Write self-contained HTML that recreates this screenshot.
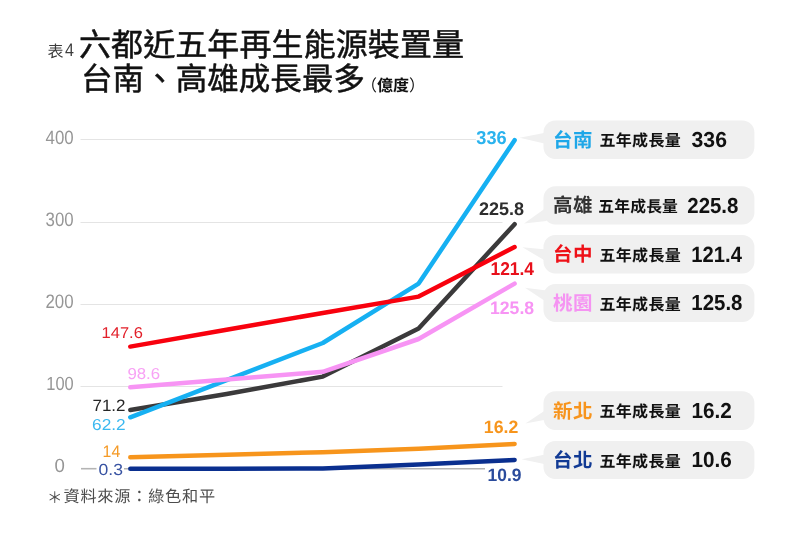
<!DOCTYPE html>
<html lang="zh-Hant">
<head>
<meta charset="utf-8">
<title>六都近五年再生能源裝置量</title>
<style>
html,body{margin:0;padding:0;background:#fff;}
body{width:792px;height:535px;overflow:hidden;font-family:"Liberation Sans",sans-serif;}
svg{display:block;font-family:"Liberation Sans","Noto Sans CJK TC",sans-serif;}
svg text{white-space:pre;text-rendering:geometricPrecision;}
</style>
</head>
<body>
<svg width="792" height="535" viewBox="0 0 792 535">
<rect width="792" height="535" fill="#ffffff"/>
<g opacity="0.999">
<line x1="80.5" y1="139.5" x2="476" y2="139.5" stroke="#e4e4e4" stroke-width="1"/>
<line x1="80.5" y1="222.5" x2="502.5" y2="222.5" stroke="#e4e4e4" stroke-width="1"/>
<line x1="80.5" y1="304.5" x2="480" y2="304.5" stroke="#e4e4e4" stroke-width="1"/>
<line x1="80.5" y1="386.5" x2="502.5" y2="386.5" stroke="#e4e4e4" stroke-width="1"/>
<line x1="81" y1="468.7" x2="96.5" y2="468.7" stroke="#b4b4b4" stroke-width="1.6"/>
<line x1="124" y1="468.7" x2="485" y2="468.7" stroke="#b4b4b4" stroke-width="1.6"/>
<rect x="543.5" y="120.5" width="210.9" height="38.5" rx="12" ry="12" fill="#f0f0f0"/>
<path d="M519.6 137.7L546.5 132.5L546.5 144.0Z" fill="#f0f0f0"/>
<rect x="543.5" y="186.3" width="210.9" height="38.3" rx="12" ry="12" fill="#f0f0f0"/>
<path d="M524.0 223.5L546.5 207.5L546.5 221.0Z" fill="#f0f0f0"/>
<rect x="543.5" y="235.0" width="210.9" height="38.4" rx="12" ry="12" fill="#f0f0f0"/>
<path d="M522.4 247.2L546.5 249.5L546.5 261.5Z" fill="#f0f0f0"/>
<rect x="543.5" y="284.0" width="210.9" height="38" rx="12" ry="12" fill="#f0f0f0"/>
<path d="M525.0 287.8L546.5 290.5L546.5 302.0Z" fill="#f0f0f0"/>
<rect x="543.5" y="391.3" width="210.9" height="38.7" rx="12" ry="12" fill="#f0f0f0"/>
<path d="M525.4 423.5L546.5 409.5L546.5 419.5Z" fill="#f0f0f0"/>
<rect x="543.5" y="441.0" width="210.9" height="38" rx="12" ry="12" fill="#f0f0f0"/>
<path d="M521.5 459.2L546.5 454.3L546.5 464.6Z" fill="#f0f0f0"/>
<path d="M130.3 410L226.6 394L322.8 376.6L418.6 328.4L514.6 224.2" fill="none" stroke="#3b3a3b" stroke-width="4.5" stroke-linecap="round" stroke-linejoin="round"/>
<path d="M130.3 417.3L226.6 380.2L322.8 343L418.6 283.6L514.6 140.2" fill="none" stroke="#16b0f2" stroke-width="4.5" stroke-linecap="round" stroke-linejoin="round"/>
<path d="M130.3 387.3L226.6 379.6L322.8 371.8L418.6 339L514.6 283.6" fill="none" stroke="#f794f4" stroke-width="4.5" stroke-linecap="round" stroke-linejoin="round"/>
<path d="M130.3 346.6L226.6 329.8L322.8 313L418.6 296.6L514.6 247" fill="none" stroke="#f8000e" stroke-width="4.5" stroke-linecap="round" stroke-linejoin="round"/>
<path d="M130.3 457.3L226.6 454.8L322.8 452.2L418.6 448.8L514.6 443.9" fill="none" stroke="#f7951c" stroke-width="4.5" stroke-linecap="round" stroke-linejoin="round"/>
<path d="M130.3 468.8L226.6 468.7L322.8 468.5L418.6 464.6L514.6 459.9" fill="none" stroke="#0a2f8f" stroke-width="4.5" stroke-linecap="round" stroke-linejoin="round"/>
<text x="79" y="56" font-size="32" textLength="385" lengthAdjust="spacing" fill="#111" stroke="#111" stroke-width="0.5" stroke-linejoin="round">六都近五年再生能源裝置量</text>
<text x="81" y="90" font-size="31.5" textLength="284" lengthAdjust="spacing" fill="#111" stroke="#111" stroke-width="0.5" stroke-linejoin="round">台南、高雄成長最多</text>
<text x="361" y="90.8" font-size="16" fill="#111">（<tspan font-weight="bold">億度</tspan>）</text>
<text x="47.5" y="56.6" font-size="16" fill="#3c3c3c">表</text>
<text transform="translate(64.93 56.4) scale(0.885 1)" font-size="18.17" fill="#3c3c3c">4</text>
<text x="46.9" y="502.6" font-size="15.5" fill="#4d4d4d">＊</text>
<text x="63.5" y="502" font-size="16.2" letter-spacing="0.75" fill="#4d4d4d">資料來源：綠色和平</text>
<text transform="translate(45.51 144.11) scale(0.872 1)" font-size="19.35" fill="#969696">400</text>
<text transform="translate(45.56 226.21) scale(0.864 1)" font-size="19.49" fill="#969696">300</text>
<text transform="translate(45.45 308.21) scale(0.867 1)" font-size="19.49" fill="#969696">200</text>
<text transform="translate(46.25 390.21) scale(0.861 1)" font-size="19.07" fill="#969696">100</text>
<text transform="translate(54.57 472.41) scale(0.976 1)" font-size="19.07" fill="#969696">0</text>
<text transform="translate(101.54 338.45) scale(1.052 1)" font-size="15.68" fill="#e2202a">147.6</text>
<text transform="translate(127.41 378.95) scale(1.063 1)" font-size="15.82" fill="#f8a2f5">98.6</text>
<text transform="translate(92.43 410.8) scale(1.033 1)" font-size="16.47" fill="#262626">71.2</text>
<text transform="translate(92.02 429.85) scale(1.093 1)" font-size="15.82" fill="#3ab8f0">62.2</text>
<text transform="translate(102.59 456.8) scale(0.951 1)" font-size="16.72" fill="#f59a26">14</text>
<text transform="translate(98.51 475.04) scale(1.093 1)" font-size="16.10" fill="#3853a2">0.3</text>
<text transform="translate(476.28 143.99) scale(0.971 1)" font-size="18.75" font-weight="bold" fill="#2bb3ee">336</text>
<text transform="translate(479.08 214.62) scale(0.989 1)" font-size="18.22" font-weight="bold" fill="#2e2e2e">225.8</text>
<text transform="translate(490.5 274.5) scale(0.943 1)" font-size="18.47" font-weight="bold" fill="#e8101b">121.4</text>
<text transform="translate(489.99 314.02) scale(0.976 1)" font-size="18.08" font-weight="bold" fill="#f794f4">125.8</text>
<text transform="translate(483.79 432.72) scale(0.986 1)" font-size="17.94" font-weight="bold" fill="#f7951c">16.2</text>
<text transform="translate(487.5 481.42) scale(0.972 1)" font-size="17.94" font-weight="bold" fill="#2a4b9c">10.9</text>
<text x="553" y="146.6" font-size="19.5" font-weight="bold" textLength="39.5" lengthAdjust="spacing" fill="#1ea7e8">台南</text>
<text x="599.5" y="146.3" font-size="16" font-weight="bold" letter-spacing="0.3" fill="#111">五年成長量</text>
<text transform="translate(691.51 147.21) scale(0.979 1)" font-size="21.71" font-weight="bold" fill="#111">336</text>
<text x="553" y="212.4" font-size="19.5" font-weight="bold" textLength="39.5" lengthAdjust="spacing" fill="#333333">高雄</text>
<text x="598.3" y="212" font-size="15.8" font-weight="bold" letter-spacing="0.15" fill="#111">五年成長量</text>
<text transform="translate(687.29 212.94) scale(0.939 1)" font-size="21.75" font-weight="bold" fill="#111">225.8</text>
<text x="553" y="261.1" font-size="19.5" font-weight="bold" textLength="39.5" lengthAdjust="spacing" fill="#ee1118">台中</text>
<text x="599.5" y="260.8" font-size="16" font-weight="bold" letter-spacing="0.3" fill="#111">五年成長量</text>
<text transform="translate(691.33 261.9) scale(0.916 1)" font-size="22.06" font-weight="bold" fill="#111">121.4</text>
<text x="553" y="309.9" font-size="19.5" font-weight="bold" textLength="39.5" lengthAdjust="spacing" fill="#f594f2">桃園</text>
<text x="599.5" y="309.6" font-size="16" font-weight="bold" letter-spacing="0.3" fill="#111">五年成長量</text>
<text transform="translate(691.31 310.49) scale(0.939 1)" font-size="21.75" font-weight="bold" fill="#111">125.8</text>
<text x="553" y="417.5" font-size="19.5" font-weight="bold" textLength="39.5" lengthAdjust="spacing" fill="#f7941d">新北</text>
<text x="599.5" y="417.2" font-size="16" font-weight="bold" letter-spacing="0.3" fill="#111">五年成長量</text>
<text transform="translate(691.39 418.14) scale(0.955 1)" font-size="21.75" font-weight="bold" fill="#111">16.2</text>
<text x="553" y="466.9" font-size="19.5" font-weight="bold" textLength="39.5" lengthAdjust="spacing" fill="#113a94">台北</text>
<text x="599.5" y="466.6" font-size="16" font-weight="bold" letter-spacing="0.3" fill="#111">五年成長量</text>
<text transform="translate(691.39 467.49) scale(0.953 1)" font-size="21.75" font-weight="bold" fill="#111">10.6</text>
</g>
</svg>
</body>
</html>
